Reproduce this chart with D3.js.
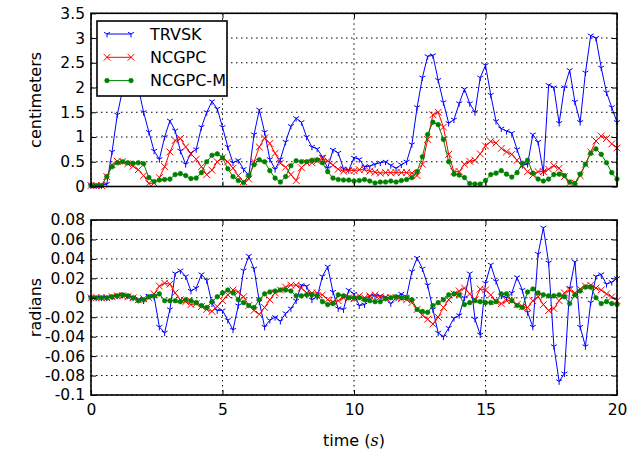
<!DOCTYPE html>
<html>
<head>
<meta charset="utf-8">
<script src="https://cdn.jsdelivr.net/npm/d3@7"></script>
<style>
  body { margin: 0; background: #fff; }
  svg { display: block; }
</style>
</head>
<body>
<div id="chart"></div>
<script>
// sample grid, one point every 0.2 s
const time = d3.range(101).map(i => i * 0.2);

const seriesNames = ["TRVSK", "NCGPC", "NCGPC-M"];

// position error (cm)
const trvskCm = [0.02,0.02,0.02,0.05,0.7,1.45,1.95,2.25,2.3,2.0,
  1.5,1.1,0.72,0.55,1.0,1.33,1.13,0.72,0.45,0.68,
  0.75,1.2,1.5,1.72,1.57,1.2,0.8,0.48,0.53,0.35,
  0.22,1.05,1.55,1.1,0.55,0.35,0.55,0.9,1.22,1.38,
  1.3,1.0,0.8,0.76,0.6,0.37,0.74,0.68,0.36,0.33,
  0.58,0.55,0.4,0.41,0.45,0.48,0.5,0.43,0.37,0.44,
  0.5,0.85,1.6,2.2,2.63,2.65,2.15,1.7,1.28,1.35,
  1.68,1.97,1.68,1.5,2.2,2.45,1.85,1.32,1.17,1.12,
  1.08,0.75,0.43,0.45,1.05,0.9,0.28,2.05,2.0,1.28,
  2.0,2.35,1.71,1.3,2.3,3.05,3.0,2.4,1.9,1.6,
  1.3];
const ncgpcCm = [0.02,0.02,0.02,0.2,0.44,0.51,0.5,0.46,0.41,0.34,
  0.22,0.06,0.07,0.18,0.4,0.7,0.93,0.97,0.8,0.66,
  0.55,0.4,0.24,0.33,0.5,0.58,0.5,0.37,0.22,0.1,
  0.15,0.5,0.8,0.98,0.87,0.67,0.47,0.39,0.24,0.12,
  0.38,0.48,0.48,0.52,0.57,0.52,0.43,0.35,0.31,0.33,
  0.32,0.34,0.34,0.31,0.29,0.27,0.28,0.28,0.28,0.28,
  0.28,0.27,0.22,0.45,0.95,1.45,1.5,1.2,0.65,0.3,
  0.3,0.45,0.51,0.53,0.66,0.82,0.91,0.88,0.77,0.7,
  0.65,0.53,0.42,0.3,0.23,0.3,0.3,0.35,0.42,0.37,
  0.2,0.07,0.07,0.22,0.45,0.7,0.92,1.02,0.97,0.86,
  0.78];
const ncgpcmCm = [0.02,0.02,0.02,0.2,0.4,0.48,0.5,0.48,0.47,0.48,
  0.46,0.18,0.1,0.13,0.14,0.15,0.24,0.26,0.22,0.16,
  0.17,0.28,0.5,0.63,0.66,0.58,0.36,0.2,0.12,0.08,
  0.22,0.44,0.54,0.5,0.32,0.17,0.09,0.2,0.42,0.52,
  0.5,0.5,0.53,0.54,0.48,0.3,0.17,0.14,0.13,0.13,
  0.11,0.12,0.14,0.11,0.07,0.09,0.09,0.11,0.09,0.12,
  0.14,0.18,0.3,0.6,1.05,1.3,1.25,0.95,0.5,0.25,
  0.23,0.18,0.06,0.05,0.05,0.12,0.24,0.27,0.32,0.25,
  0.19,0.28,0.47,0.53,0.27,0.15,0.11,0.15,0.24,0.25,
  0.22,0.09,0.06,0.25,0.45,0.67,0.76,0.65,0.48,0.28,
  0.15];

// orientation error (rad)
const trvskRad = [0,0,0,0,0.001,0.002,0.003,0.002,0,-0.002,
  -0.003,0.002,0.001,-0.03,-0.036,-0.012,0.025,0.028,0.022,0.007,
  0.01,0.024,0.018,-0.006,-0.013,-0.013,-0.023,-0.033,-0.008,0.028,
  0.043,0.03,-0.004,-0.03,-0.023,-0.02,-0.024,-0.016,-0.011,-0.003,
  0.013,0.012,-0.002,0.001,0.022,0.032,0.006,-0.011,-0.012,0.008,
  0.004,-0.008,-0.007,0.002,0.002,0.002,0.001,-0.006,0,0.004,
  0.001,0.027,0.041,0.03,0.013,-0.012,-0.036,-0.04,-0.031,-0.021,
  -0.018,0,0.025,-0.022,-0.038,0.015,0.034,0.017,0.002,0,
  0.005,0.021,0.008,-0.015,-0.03,0.045,0.072,0.036,-0.05,-0.086,
  -0.078,0.01,0.037,-0.03,-0.05,-0.005,0.022,0.024,0.014,0.016,
  0.02];
const ncgpcRad = [0,0,0,0,0.001,0.002,0.002,0.001,0,-0.002,
  -0.001,0,0.004,0.012,0.015,0.014,0.005,-0.002,-0.004,-0.007,
  -0.006,-0.009,-0.012,-0.014,-0.009,-0.003,0.003,0.008,0.006,0.001,
  -0.008,-0.013,-0.017,-0.01,-0.002,0.005,0.008,0.011,0.013,0.013,
  0.01,0.005,0.005,0.005,0.003,-0.002,-0.004,-0.003,0,0,
  -0.001,0.002,0,0.002,0.003,0.001,0,0,0,-0.001,
  -0.002,-0.005,-0.012,-0.018,-0.022,-0.027,-0.02,-0.01,-0.002,0.004,
  0.007,0.01,0.004,-0.002,0.009,0.008,0.003,-0.004,-0.006,-0.003,
  -0.003,-0.007,-0.009,-0.01,-0.003,0.001,-0.007,-0.013,-0.011,-0.003,
  0.005,0.008,0.005,0.009,0.012,0.013,0.01,0.008,0.004,0.001,
  -0.003];
const ncgpcmRad = [0,0,0,0,0.001,0.002,0.003,0.002,0,-0.003,
  -0.002,0.001,0.002,0.004,-0.003,-0.003,-0.003,-0.004,-0.002,-0.003,
  -0.005,-0.008,-0.01,-0.004,0.001,0.005,0.008,0.005,-0.002,-0.005,
  -0.008,-0.01,-0.002,0.004,0.006,0.007,0.008,0.008,0.007,0.002,
  0.002,0.003,0.003,0.002,-0.004,-0.007,-0.006,0.003,0.002,0,
  0,0,-0.002,-0.003,-0.004,-0.004,-0.001,0,0.001,0,
  0,-0.002,-0.012,-0.014,-0.015,-0.008,-0.005,-0.002,0.003,0.004,
  0.003,-0.007,-0.005,-0.003,-0.004,-0.005,-0.005,-0.004,0.004,0.004,
  -0.003,-0.008,-0.01,0.006,0.009,0.005,0.003,0.002,0.002,0.003,
  0.001,-0.006,0.003,0.007,0.011,0.011,0,-0.006,-0.004,-0.006,
  -0.007];

const xTicks = [0, 5, 10, 15, 20];
const cmTicks = [0, 0.5, 1, 1.5, 2, 2.5, 3, 3.5];
const radTicks = [-0.1, -0.08, -0.06, -0.04, -0.02, 0, 0.02, 0.04, 0.06, 0.08];

const colors = ["#0000ff", "#ff0000", "#008000"];
const markers = ["tri", "x", "dot"];

const width = 629, height = 453;
const left = 91, right = 617;
const panels = [
  { top: 13.3, bottom: 186.5, domain: [0, 3.5], ticks: cmTicks, label: "centimeters",
    series: [trvskCm, ncgpcCm, ncgpcmCm], legend: true },
  { top: 220, bottom: 395, domain: [-0.1, 0.08], ticks: radTicks, label: "radians",
    series: [trvskRad, ncgpcRad, ncgpcmRad], xlabels: true }
];

const svg = d3.select("#chart").append("svg")
  .attr("width", width)
  .attr("height", height)
  .style("font-family", "'DejaVu Sans', sans-serif");

const x = d3.scaleLinear().domain([0, 20]).range([left, right]);
// plain hyphen for negatives, like the original figure
const fmt = d => d3.format("~g")(d).replace("\u2212", "-");

function drawMarker(g, kind, cx, cy, color) {
  const r = 3.4;
  if (kind === "tri") {
    g.append("path")
      .attr("d", `M${cx},${cy}L${cx},${cy + r}M${cx},${cy}L${cx - r * 0.866},${cy - r * 0.5}M${cx},${cy}L${cx + r * 0.866},${cy - r * 0.5}`)
      .attr("stroke", color).attr("stroke-width", 1).attr("fill", "none");
  } else if (kind === "x") {
    g.append("path")
      .attr("d", `M${cx - r},${cy - r}L${cx + r},${cy + r}M${cx - r},${cy + r}L${cx + r},${cy - r}`)
      .attr("stroke", color).attr("stroke-width", 1).attr("fill", "none");
  } else {
    g.append("circle").attr("cx", cx).attr("cy", cy).attr("r", 2.3)
      .attr("fill", color).attr("stroke", color).attr("stroke-width", 0.6);
  }
}

panels.forEach(p => {
  const y = d3.scaleLinear().domain(p.domain).range([p.bottom, p.top]);
  const g = svg.append("g");

  // grid
  g.append("g").selectAll("line").data(xTicks).join("line")
    .attr("x1", d => x(d)).attr("x2", d => x(d))
    .attr("y1", p.top).attr("y2", p.bottom)
    .attr("stroke", "#000").attr("stroke-width", 1)
    .attr("stroke-dasharray", "1.5,3.5");
  g.append("g").selectAll("line").data(p.ticks).join("line")
    .attr("x1", left).attr("x2", right)
    .attr("y1", d => y(d)).attr("y2", d => y(d))
    .attr("stroke", "#000").attr("stroke-width", 1)
    .attr("stroke-dasharray", "1.5,3.5");

  // series
  const line = d3.line().x((d, i) => x(time[i])).y(d => y(d));
  p.series.forEach((vals, si) => {
    const sg = g.append("g");
    sg.append("path").datum(vals)
      .attr("d", line)
      .attr("fill", "none")
      .attr("stroke", colors[si])
      .attr("stroke-width", 1);
    vals.forEach((v, i) => drawMarker(sg, markers[si], x(time[i]), y(v), colors[si]));
  });

  // axes, ticks inward on all four sides
  const axL = g.append("g").attr("transform", `translate(${left},0)`)
    .call(d3.axisLeft(y).tickValues(p.ticks).tickSize(-5).tickPadding(6).tickFormat(fmt));
  const axR = g.append("g").attr("transform", `translate(${right},0)`)
    .call(d3.axisRight(y).tickValues(p.ticks).tickSize(-5).tickFormat(""));
  const axT = g.append("g").attr("transform", `translate(0,${p.top})`)
    .call(d3.axisTop(x).tickValues(xTicks).tickSize(-5).tickFormat(""));
  const axB = g.append("g").attr("transform", `translate(0,${p.bottom})`)
    .call(d3.axisBottom(x).tickValues(xTicks).tickSize(-5).tickPadding(9)
      .tickFormat(p.xlabels ? fmt : ""));
  [axL, axR, axT, axB].forEach(a => {
    a.select(".domain").remove();
    a.selectAll("line").attr("stroke", "#000").attr("stroke-width", 1);
    a.selectAll("text").attr("fill", "#000")
      .style("font-family", "'DejaVu Sans', sans-serif")
      .style("font-size", "15.5px");
  });

  // frame
  g.append("rect")
    .attr("x", left).attr("y", p.top)
    .attr("width", right - left).attr("height", p.bottom - p.top)
    .attr("fill", "none").attr("stroke", "#000").attr("stroke-width", 1.6);

  // y label
  g.append("text")
    .attr("transform", `translate(41,${(p.top + p.bottom) / 2}) rotate(-90)`)
    .attr("text-anchor", "middle")
    .style("font-size", "16px")
    .text(p.label);

  if (p.legend) {
    const lg = g.append("g");
    lg.append("rect")
      .attr("x", 97).attr("y", 21).attr("width", 130).attr("height", 75)
      .attr("fill", "#fff").attr("stroke", "#000").attr("stroke-width", 1.6);
    seriesNames.forEach((name, si) => {
      const ly = 34 + si * 23.3;
      lg.append("line").attr("x1", 107).attr("x2", 131)
        .attr("y1", ly).attr("y2", ly)
        .attr("stroke", colors[si]).attr("stroke-width", 1);
      drawMarker(lg, markers[si], 107, ly, colors[si]);
      drawMarker(lg, markers[si], 131, ly, colors[si]);
      lg.append("text").attr("x", 150).attr("y", ly).attr("dy", "0.36em")
        .style("font-size", "16px")
        .text(name);
    });
  }
});

// x label
const xl = svg.append("text")
  .attr("x", (left + right) / 2)
  .attr("y", 446)
  .attr("text-anchor", "middle")
  .style("font-size", "16px");
xl.append("tspan").text("time (");
xl.append("tspan").style("font-style", "italic").style("font-family", "'DejaVu Serif', serif").text("s");
xl.append("tspan").text(")");
</script>
</body>
</html>
